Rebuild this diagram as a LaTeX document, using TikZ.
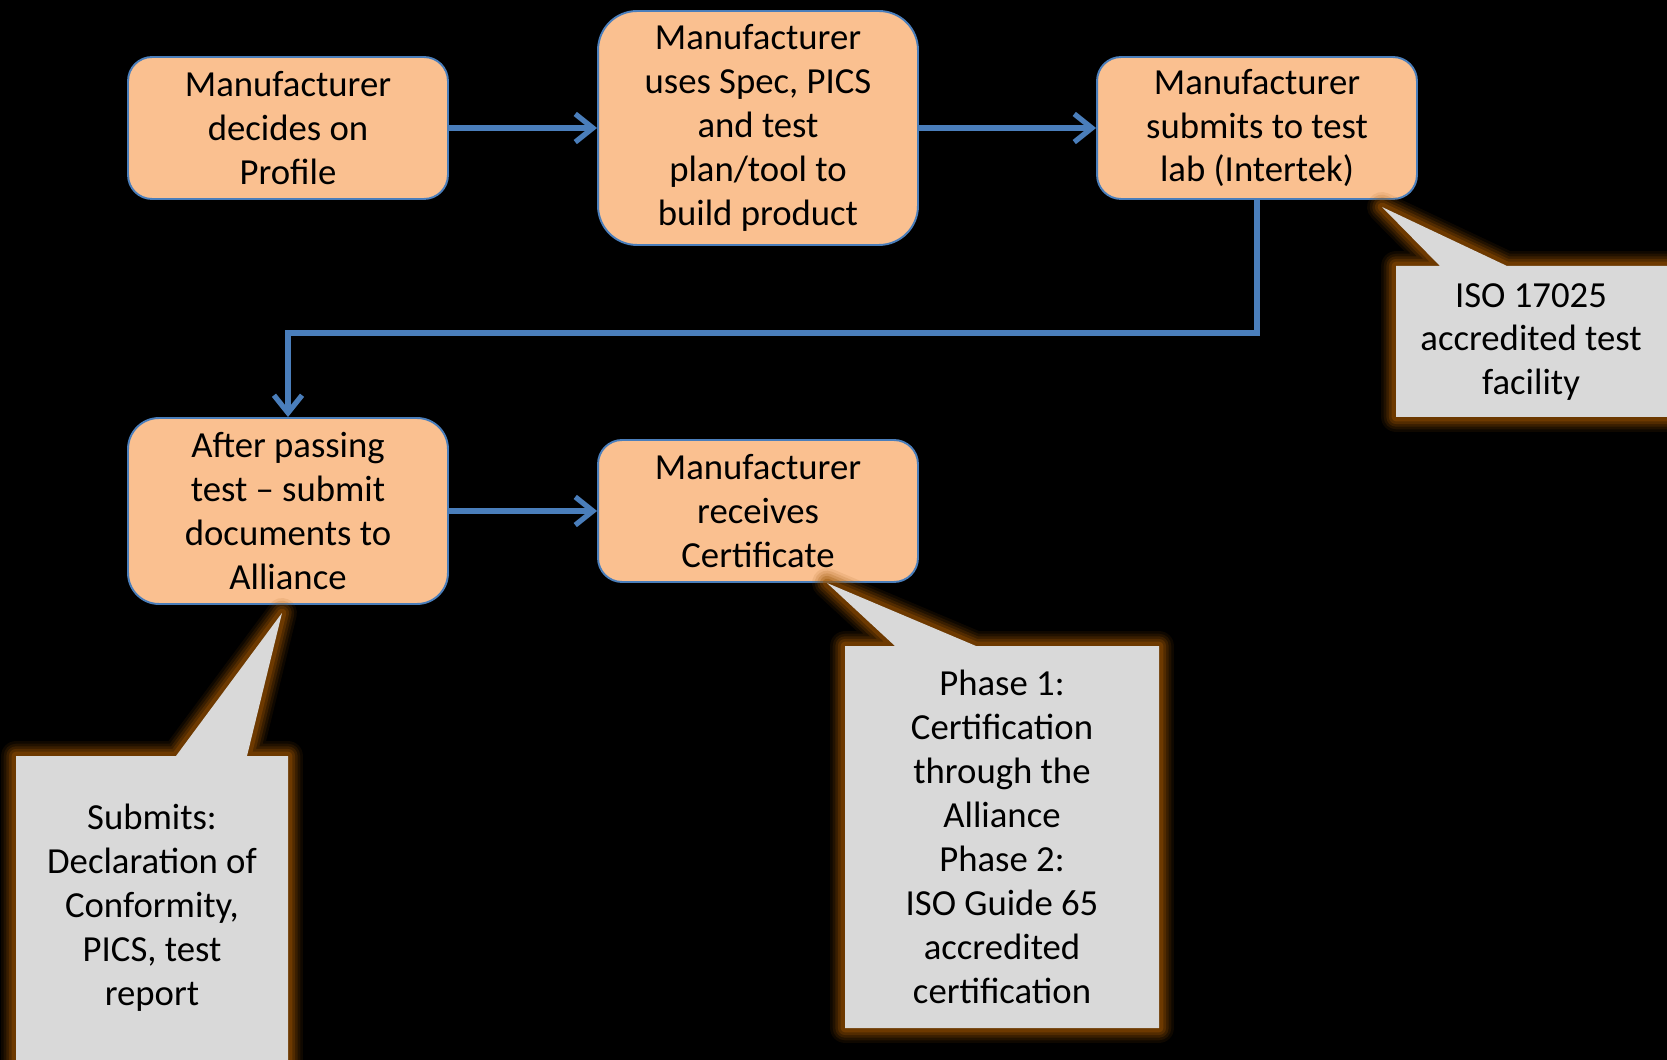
\documentclass[tikz,border=0pt]{standalone}
\usepackage{fontspec}
\setmainfont{Carlito}
\usetikzlibrary{arrows.meta}
\definecolor{stage fill}{RGB}{250,192,144}
\definecolor{stage edge}{RGB}{74,126,187}
\definecolor{note fill}{RGB}{217,217,217}
\definecolor{note glow}{RGB}{150,80,0}
\def\labnote{ (1396,266) -- (1440,266) -- (1382,207) -- (1507,266) -- (1700,266) -- (1700,417) -- (1396,417) -- cycle}
\def\docsnote{(16,756) -- (176,756) -- (282,613) -- (247,756) -- (288,756) -- (288,1100) -- (16,1100) -- cycle}
\def\certnote{(845,646) -- (895,646) -- (827,583) -- (976,646) -- (1159,646) -- (1159,1028) -- (845,1028) -- cycle}
\tikzset{stage/.style={rectangle, rounded corners=0.48cm, fill=stage fill, draw=stage edge,
        line width=1.1pt, minimum width=6.4cm, minimum height=2.84cm, inner sep=0pt,
        align=center, font=\fontsize{20.9pt}{25pt}\selectfont},
    notetext/.style={align=center, inner sep=0pt, font=\fontsize{20.9pt}{25pt}\selectfont},
    flow/.style={draw=stage edge, line width=3pt, -{Straight Barb[length=10pt,width=16pt]}}}

\begin{document}
\begin{tikzpicture}[x=0.02cm, y=-0.02cm]
    \useasboundingbox (0,0) rectangle (1667,1060);
    \clip (0,0) rectangle (1667,1060);
    \fill[black] (0,0) rectangle (1667,1060);

    \node[stage] (profile) at (288,128) {Manufacturer\\decides on\\Profile};
    \node[stage, minimum height=4.68cm, rounded corners=0.78cm] (build) at (758,128)
        {Manufacturer\\uses Spec, PICS\\and test\\plan/tool to\\build product};
    \node[stage] (submit) at (1257,128) {Manufacturer\\submits to test\\lab (Intertek)};
    \node[stage, minimum height=3.72cm, rounded corners=0.62cm] (passed) at (288,511)
        {After passing\\test -- submit\\documents to\\Alliance};
    \node[stage] (receive) at (758,511) {Manufacturer\\receives\\Certificate};
    \coordinate (bend) at (288,333);

    \draw[flow] (profile) -- (build);
    \draw[flow] (build) -- (submit);
    \draw[flow] (submit.south) |- (bend) -- (passed.north);
    \draw[flow] (passed) -- (receive);

    % callouts with a soft glow
    \foreach \w/\o in {17pt/0.1, 14pt/0.14, 11pt/0.2, 8pt/0.28, 5pt/0.4}
        \draw[note glow, line width=\w, opacity=\o, line join=round] \labnote \docsnote \certnote;
    \fill[note fill] \labnote \docsnote \certnote;

    \node[notetext] (labtext) at (1531,342) {ISO 17025\\accredited test\\facility};
    \node[notetext] (docstext) at (152,908) {Submits:\\Declaration of\\Conformity,\\PICS, test\\report};
    \node[notetext] (certtext) at (1002,837) {Phase 1:\\Certification\\through the\\Alliance\\Phase 2:\\ISO Guide 65\\accredited\\certification};
\end{tikzpicture}
\end{document}
